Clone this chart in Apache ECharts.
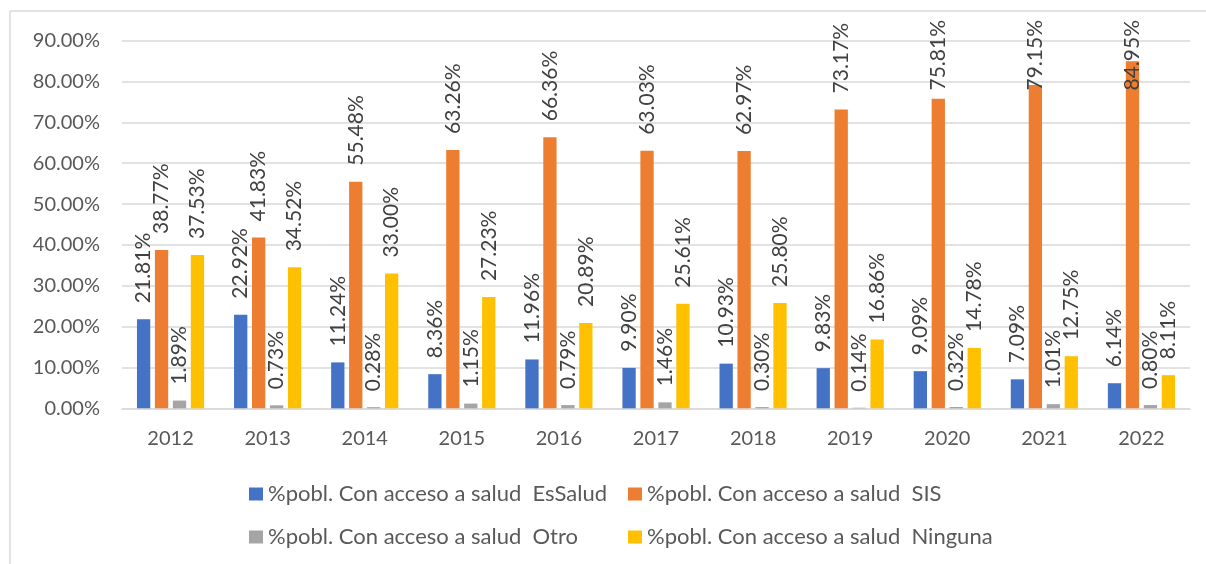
<!DOCTYPE html>
<html>
<head>
<meta charset="utf-8">
<script src="https://cdn.jsdelivr.net/npm/echarts@6/dist/echarts.min.js"></script>
<style>
html,body{margin:0;padding:0;background:#fff;}
#chart{width:1206px;height:564px;}
</style>
</head>
<body>
<div id="chart"></div>
<script>
var years = ['2012','2013','2014','2015','2016','2017','2018','2019','2020','2021','2022'];
var seriesNames = [
  '%pobl. Con acceso a salud  EsSalud',
  '%pobl. Con acceso a salud  SIS',
  '%pobl. Con acceso a salud  Otro',
  '%pobl. Con acceso a salud  Ninguna'
];
var esSalud = [21.81, 22.92, 11.24, 8.36, 11.96, 9.90, 10.93, 9.83, 9.09, 7.09, 6.14];
var sis = [38.77, 41.83, 55.48, 63.26, 66.36, 63.03, 62.97, 73.17, 75.81, 79.15, 84.95];
var otro = [1.89, 0.73, 0.28, 1.15, 0.79, 1.46, 0.30, 0.14, 0.32, 1.01, 0.80];
var ninguna = [37.53, 34.52, 33.00, 27.23, 20.89, 25.61, 25.80, 16.86, 14.78, 12.75, 8.11];
var colors = ['#4472C4', '#ED7D31', '#A5A5A5', '#FFC000'];

var FONT = 'Lato';
var TXT = '#595959';
var LABEL_MIN_TOP = 20;

function mkSeries(name, data, color) {
  return {
    name: name,
    type: 'bar',
    data: data,
    barWidth: 13.3,
    barGap: '35%',
    itemStyle: { color: color },
    label: {
      show: true,
      position: 'top',
      rotate: 90,
      align: 'left',
      verticalAlign: 'middle',
      distance: 16,
      color: '#404040',
      fontFamily: FONT,
      fontSize: 21,
      formatter: function (p) { return p.value.toFixed(2) + '%'; }
    },
    labelLayout: function (p) {
      var r = p.labelRect;
      if (r.y < LABEL_MIN_TOP) {
        return { y: LABEL_MIN_TOP + r.height };
      }
      return {};
    }
  };
}

function mkLegend(name, left, top) {
  return {
    data: [name],
    left: left,
    top: top,
    padding: 0,
    itemWidth: 14,
    itemHeight: 13,
    icon: 'rect',
    itemGap: 0,
    textStyle: { color: TXT, fontFamily: FONT, fontSize: 22, padding: [0, 0, 0, 0] }
  };
}

var chart = echarts.init(document.getElementById('chart'), null, { renderer: 'canvas' });
chart.setOption({
  animation: false,
  backgroundColor: '#fff',
  color: colors,
  graphic: [
    { type: 'line', shape: { x1: 10, y1: 11, x2: 1206, y2: 11 }, style: { stroke: '#D9D9D9', lineWidth: 1.5 } },
    { type: 'line', shape: { x1: 10, y1: 11, x2: 10, y2: 564 }, style: { stroke: '#D9D9D9', lineWidth: 1.5 } }
  ],
  legend: [
    mkLegend(seriesNames[0], 249, 483),
    mkLegend(seriesNames[1], 628, 483),
    mkLegend(seriesNames[2], 249, 526),
    mkLegend(seriesNames[3], 628, 526)
  ],
  grid: { left: 122, right: 16, top: 40.7, bottom: 155.7, containLabel: false },
  xAxis: {
    type: 'category',
    data: years,
    axisLine: { show: true, lineStyle: { color: '#D9D9D9', width: 1.5 } },
    axisTick: { show: false },
    axisLabel: { color: TXT, fontFamily: FONT, fontSize: 20, margin: 20 }
  },
  yAxis: {
    type: 'value',
    min: 0,
    max: 90,
    interval: 10,
    axisLine: { show: false },
    axisTick: { show: false },
    splitLine: { lineStyle: { color: '#D9D9D9', width: 1.5 } },
    axisLabel: {
      color: TXT, fontFamily: FONT, fontSize: 20, margin: 22,
      formatter: function (v) { return v.toFixed(2) + '%'; }
    }
  },
  series: [
    mkSeries(seriesNames[0], esSalud, colors[0]),
    mkSeries(seriesNames[1], sis, colors[1]),
    mkSeries(seriesNames[2], otro, colors[2]),
    mkSeries(seriesNames[3], ninguna, colors[3])
  ]
});
</script>
</body>
</html>
